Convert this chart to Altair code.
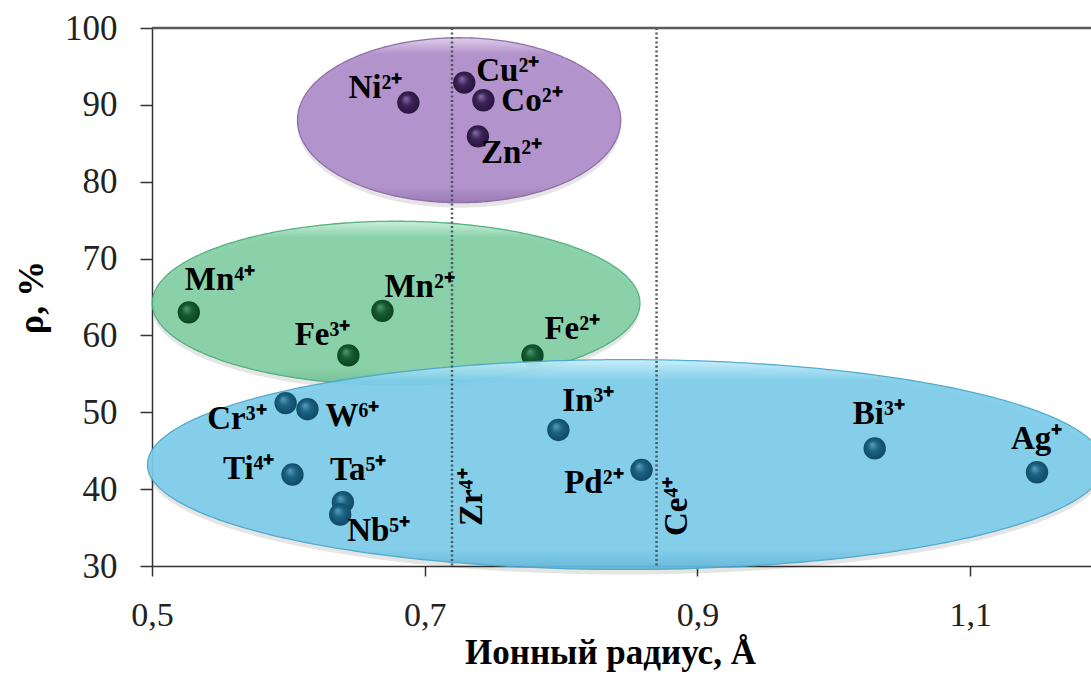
import numpy as np
import pandas as pd
import altair as alt

# ---------------- data ----------------
ions = ["Ni²⁺", "Cu²⁺", "Co²⁺", "Zn²⁺",
        "Mn⁴⁺", "Mn²⁺", "Fe³⁺", "Fe²⁺",
        "Cr³⁺", "W⁶⁺", "Ti⁴⁺", "Ta⁵⁺", "Nb⁵⁺", "In³⁺", "Pd²⁺", "Bi³⁺", "Ag⁺"]
radius = [0.688, 0.729, 0.743, 0.739,
          0.527, 0.669, 0.644, 0.779,
          0.598, 0.614, 0.603, 0.640, 0.638, 0.798, 0.859, 1.030, 1.149]
rho = [90.3, 92.9, 90.6, 85.9,
       63.0, 63.2, 57.4, 57.4,
       51.2, 50.4, 41.9, 38.3, 36.7, 47.7, 42.5, 45.3, 42.2]
group = ["purple"] * 4 + ["green"] * 4 + ["blue"] * 9

# label placement (pixel offsets from the point)
label_align = ["right", "left", "left", "left",
               "left", "left", "right", "left",
               "right", "left", "right", "left", "left", "left", "right", "left", "left"]
label_dx = [-6, 12, 18, 3, -4, 2, 2, 12, -19, 18, -18, -13, 7, 4, -18, -22, -26]
label_dy = [-5, -2, 11, 27, -22, -14, -10, -16, 26, 17, 4, -22, 26, -19, 23, -24, -23]

# vertical reference lines
ref_names = ["Zr⁴⁺", "Ce⁴⁺"]
ref_radius = [0.72, 0.87]
ref_label_y = [35.2, 33.9]

# ellipses (data units)
ell_names = ["purple", "green", "blue"]
ell_cx = [0.7252, 0.679, 0.8474]
ell_cy = [88.0, 64.2, 43.2]
ell_rx = [0.1185, 0.1788, 0.3507]
ell_ry = [10.73, 10.66, 13.65]

x_ticks = [0.5, 0.7, 0.9, 1.1]
y_ticks = [30, 40, 50, 60, 70, 80, 90, 100]

# ---------------- tables ----------------
pts = pd.DataFrame({"ion": ions, "r": radius, "rho": rho, "g": group})
t = np.linspace(0, np.pi, 241)
ell_rows = []
for n, cx, cy, rx, ry in zip(ell_names, ell_cx, ell_cy, ell_rx, ell_ry):
    for tt in t:
        ell_rows.append({"g": n, "x": cx + rx * np.cos(tt),
                         "lo": cy - ry * np.sin(tt), "hi": cy + ry * np.sin(tt)})
ell = pd.DataFrame(ell_rows)
refs = pd.DataFrame({"name": ref_names, "r": ref_radius, "ly": ref_label_y})
top = pd.DataFrame({"y": [100]})

SERIF = "Liberation Serif"
xscale = alt.Scale(domain=[0.5, 1.1886], nice=False, zero=False)
yscale = alt.Scale(domain=[30, 100], nice=False, zero=False)
xaxis = alt.Axis(values=x_ticks, labelExpr="replace(format(datum.value, '.1f'), '.', ',')",
                 title="Ионный радиус, Å", titleFont=SERIF, titleFontSize=35,
                 titleFontWeight="bold", titleColor="black", titleX=458, titleY=97,
                 titleBaseline="alphabetic", titleAlign="center",
                 labelFont=SERIF, labelFontSize=34, labelColor="#222", labelPadding=22,
                 labelOverlap=False, labelFlush=False,
                 tickSize=10, tickColor="#333", tickWidth=1.5,
                 domainColor="#333", domainWidth=1.5, grid=False)
yaxis = alt.Axis(values=y_ticks, title="ρ, %", titleFont=SERIF, titleFontSize=36,
                 titleFontWeight="bold", titleColor="black", titleAngle=270,
                 titleX=-110, titleY=269, titleAlign="center", titleBaseline="alphabetic",
                 labelFont=SERIF, labelFontSize=35, labelColor="#222", labelPadding=23,
                 labelOverlap=False, labelFlush=False,
                 tickSize=12, tickColor="#333", tickWidth=1.5,
                 domainColor="#333", domainWidth=1.5, grid=False)


def X(f):
    return alt.X(f, type="quantitative", scale=xscale, axis=xaxis)


def Y(f):
    return alt.Y(f, type="quantitative", scale=yscale, axis=yaxis)


ell_style = {
    "purple": ("#dccbe9", "#b08dca", "#9674b2", "#8a66a6"),
    "green": ("#c6eed7", "#84d0a6", "#68bd8f", "#4aad77"),
    "blue": ("#c4eef9", "#7dcdeb", "#5fb6d8", "#4aa6cc"),
}
pt_style = {
    "purple": ("#8a6cab", "#3b2356", "#26133a"),
    "green": ("#4d9a6d", "#145c33", "#0b3f22"),
    "blue": ("#5a9cbb", "#1a6282", "#0f4660"),
}


def ellipse_layer(name):
    hl, base, dark, edge = ell_style[name]
    grad = {"gradient": "linear", "x1": 0, "y1": 0, "x2": 0, "y2": 1,
            "stops": [{"offset": 0, "color": hl}, {"offset": 0.1, "color": base},
                      {"offset": 0.9, "color": base}, {"offset": 1, "color": dark}]}
    return alt.Chart(ell).transform_filter(alt.datum.g == name).mark_area(
        fill=grad, stroke=edge, strokeWidth=1.3, opacity=0.93, clip=False
    ).encode(x=X("x"), y=Y("lo"), y2="hi:Q")


def shadow_layer(name):
    return alt.Chart(ell).transform_filter(alt.datum.g == name).mark_area(
        color="#000000", opacity=0.10, yOffset=5, y2Offset=5, clip=False
    ).encode(x=X("x"), y=Y("lo"), y2="hi:Q")


def point_layer(name):
    hl, base, dark = pt_style[name]
    grad = {"gradient": "radial", "x1": 0.38, "y1": 0.32, "r1": 0,
            "x2": 0.5, "y2": 0.5, "r2": 0.55,
            "stops": [{"offset": 0, "color": hl}, {"offset": 0.45, "color": base},
                      {"offset": 1, "color": dark}]}
    return alt.Chart(pts).transform_filter(alt.datum.g == name).mark_point(
        shape="circle", filled=True, fill=grad, size=500, strokeWidth=0, opacity=1
    ).encode(x=X("r"), y=Y("rho"))


layers = []
for n in ell_names:
    layers.append(shadow_layer(n))
layers.append(ellipse_layer("purple"))
layers.append(ellipse_layer("green"))
layers.append(point_layer("green"))
layers.append(ellipse_layer("blue"))

# reference lines and top border
layers.append(alt.Chart(refs).mark_rule(color="#3f4a55", strokeWidth=2.5, strokeDash=[2, 2.5],
                                        opacity=0.9).encode(x=X("r")))
layers.append(alt.Chart(top).mark_rule(color="#5a5a5a", strokeWidth=2.5).encode(y=Y("y")))

layers.append(point_layer("purple"))
layers.append(point_layer("blue"))

for ion, al, dx, dy in zip(ions, label_align, label_dx, label_dy):
    layers.append(alt.Chart(pts).transform_filter(alt.datum.ion == ion).mark_text(
        align=al, baseline="alphabetic", dx=dx, dy=dy, font=SERIF, fontSize=33,
        fontWeight="bold", color="black"
    ).encode(x=X("r"), y=Y("rho"), text="ion:N"))

layers.append(alt.Chart(refs).mark_text(
    align="left", baseline="alphabetic", angle=270, dy=30, font=SERIF, fontSize=33,
    fontWeight="bold", color="black"
).encode(x=X("r"), y=Y("ly"), text="name:N"))

chart = alt.layer(*layers).properties(
    width=939, height=538,
    autosize=alt.AutoSizeParams(type="none"),
    padding={"left": 152, "top": 28, "right": 0, "bottom": 109},
    background="white",
).configure_view(stroke=None)

chart.save("out.html", embed_options={"renderer": "svg", "actions": False})
